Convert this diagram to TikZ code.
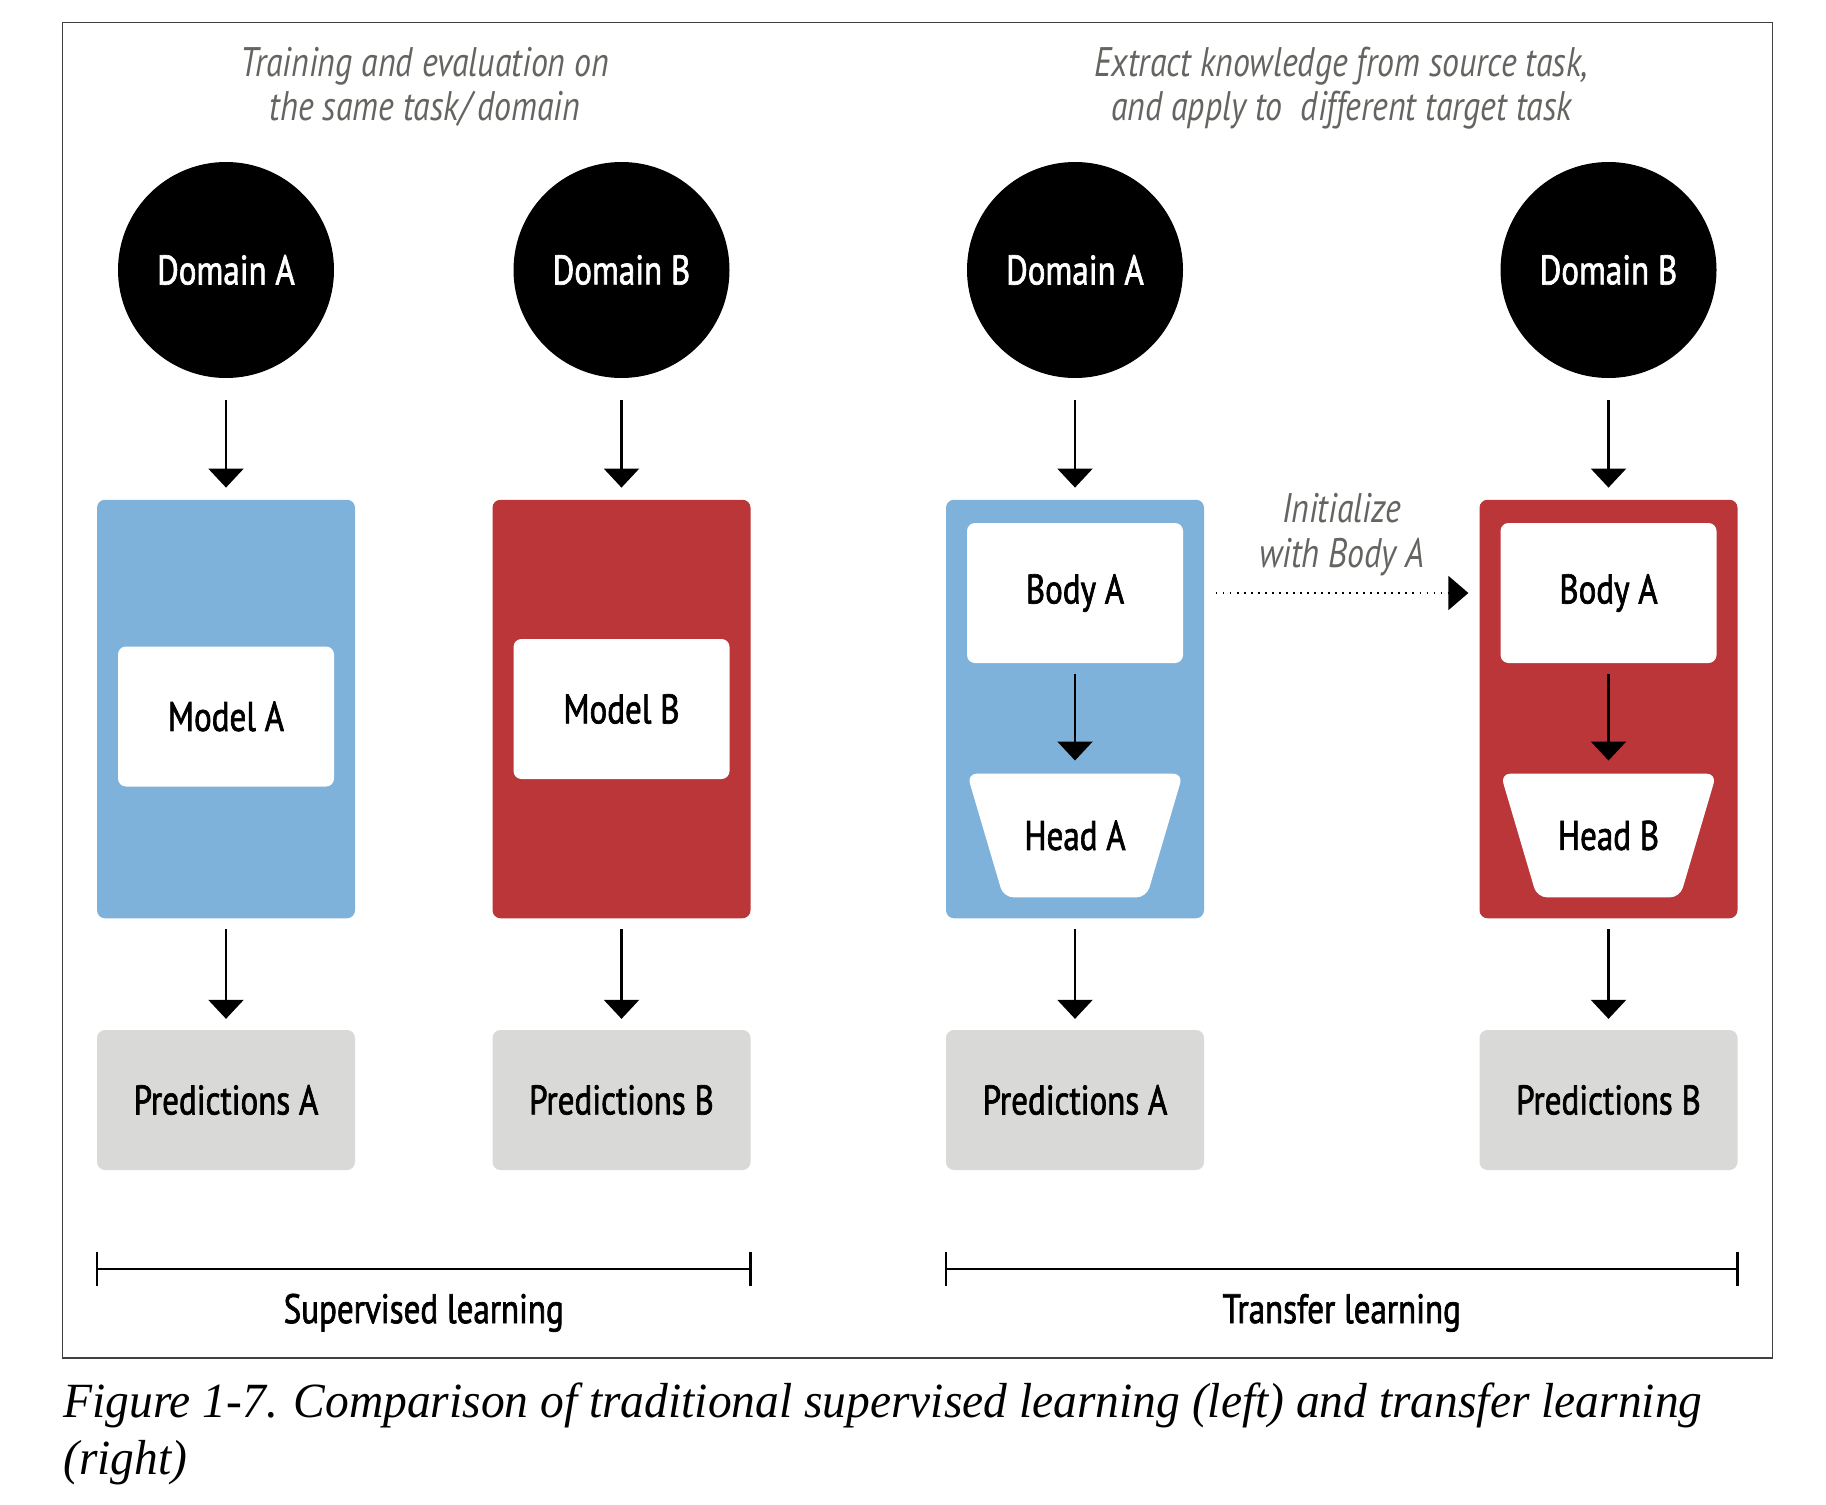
\documentclass[tikz,border=0pt]{standalone}
\usepackage{fontspec}
\usepackage{tikz}
\usetikzlibrary{arrows.meta,positioning,shapes.geometric}

\newfontfamily\lblfont[FakeStretch=0.8,FakeBold=1.6]{PT Sans}
\newfontfamily\notefont[FakeStretch=0.82]{PT Sans}
\newfontfamily\capfont[FakeStretch=0.965]{Liberation Serif}
\definecolor{blueA}{RGB}{127,178,218}
\definecolor{redB}{RGB}{186,54,56}
\definecolor{predgray}{RGB}{217,217,216}
\definecolor{notegray}{RGB}{100,100,96}

\begin{document}
\begin{tikzpicture}[>={Triangle[width=0.7cm,length=0.38cm]},line width=1.3pt,
	every node/.style={font=\lblfont\fontsize{23.5}{25.2}\selectfont}]
	\useasboundingbox (0,0) rectangle (36.52,-30.08);
	\draw[line width=0.9pt,black!75] (1.246,-0.45) rectangle (35.45,-27.154);
	\tikzset{domaincirc/.style={circle,fill=black,text=white,minimum size=4.32cm,inner sep=0pt}}
	\tikzset{bigblock/.style={rectangle,rounded corners=0.16cm,minimum width=5.16cm,minimum height=8.37cm}}
	\tikzset{innerbox/.style={rectangle,fill=white,rounded corners=0.16cm,minimum width=4.32cm,minimum height=2.8cm}}
	\tikzset{headlbl/.style={rectangle,minimum width=4.32cm,minimum height=2.474cm}}
	\tikzset{headfill/.style={fill=white,rounded corners=0.2cm}}
	\tikzset{predbox/.style={rectangle,fill=predgray,rounded corners=0.16cm,minimum width=5.16cm,minimum height=2.8cm}}
	\tikzset{notetext/.style={text=notegray,font=\notefont\itshape\fontsize{23.5}{25.2}\selectfont,align=center}}
	\tikzset{flow/.style={->,shorten <=0.2cm,shorten >=0.2cm}}
	\tikzset{initarrow/.style={-{Triangle[width=0.68cm,length=0.4cm]},line width=1pt,dash pattern=on 1pt off 3pt,
		shorten <=0.63cm,shorten >=0.62cm}}
	\tikzset{bracketline/.style={{Bar[width=0.68cm]}-{Bar[width=0.68cm]}}}
	
	% headings
	\node[notetext,anchor=base] (noteL) at (8.5,-2.42) {Training and evaluation on\\the same task/\,domain};
	\node[notetext,anchor=base] (noteR) at (26.83,-2.42) {Extract knowledge from source task,\\and apply to~ different target task};
	
	\node[domaincirc] (domA1) at (4.52,-5.4)  {Domain A};
	\node[domaincirc] (domB1) at (12.43,-5.4) {Domain B};
	\node[domaincirc] (domA2) at (21.5,-5.4)  {Domain A};
	\node[domaincirc] (domB2) at (32.17,-5.4) {Domain B};
	
	\node[bigblock,fill=blueA] (boxA1) at (4.52,-14.18)  {};
	\node[bigblock,fill=redB]  (boxB1) at (12.43,-14.18) {};
	\node[bigblock,fill=blueA] (boxA2) at (21.5,-14.18)  {};
	\node[bigblock,fill=redB]  (boxB2) at (32.17,-14.18) {};
	
	\node[innerbox] (modelA) at (4.52,-14.33)  {Model A};
	\node[innerbox] (modelB) at (12.43,-14.18) {Model B};
	\node[innerbox] (bodyA1) at (21.5,-11.86)  {Body A};
	\node[innerbox] (bodyA2) at (32.17,-11.86) {Body A};
	
	% heads: wide at the top, narrow at the bottom
	\coordinate (headAc) at (21.5,-16.71);
	\coordinate (headBc) at (32.17,-16.71);
	\fill[headfill] ([shift={(-2.16,1.237)}]headAc) -- ([shift={(2.16,1.237)}]headAc)
		-- ([shift={(1.43,-1.237)}]headAc) -- ([shift={(-1.43,-1.237)}]headAc) -- cycle;
	\fill[headfill] ([shift={(-2.16,1.237)}]headBc) -- ([shift={(2.16,1.237)}]headBc)
		-- ([shift={(1.43,-1.237)}]headBc) -- ([shift={(-1.43,-1.237)}]headBc) -- cycle;
	\node[headlbl] (headA) at (headAc) {Head A};
	\node[headlbl] (headB) at (headBc) {Head B};
	
	\node[predbox] (predA1) at (4.52,-22)  {Predictions A};
	\node[predbox] (predB1) at (12.43,-22) {Predictions B};
	\node[predbox] (predA2) at (21.5,-22)  {Predictions A};
	\node[predbox] (predB2) at (32.17,-22) {Predictions B};
	
	\path
	(domA1)  edge [flow,shorten <=0.41cm,shorten >=0.22cm] (boxA1)
	(domB1)  edge [flow,shorten <=0.41cm,shorten >=0.22cm] (boxB1)
	(domA2)  edge [flow,shorten <=0.41cm,shorten >=0.22cm] (boxA2)
	(domB2)  edge [flow,shorten <=0.41cm,shorten >=0.22cm] (boxB2)
	(boxA1)  edge [flow] (predA1)
	(boxB1)  edge [flow] (predB1)
	(boxA2)  edge [flow] (predA2)
	(boxB2)  edge [flow] (predB2)
	(bodyA1) edge [flow,shorten >=0.24cm] (headA)
	(bodyA2) edge [flow,shorten >=0.24cm] (headB)
	(bodyA1) edge [initarrow] node[notetext,midway,anchor=base,yshift=0.52cm] {Initialize\\with Body A} (bodyA2);
	
	% brackets under the two halves
	\draw[bracketline] ([yshift=-1.96cm]predA1.south west) -- ([yshift=-1.96cm]predB1.south east)
		node[midway,anchor=base,yshift=-1.08cm] {Supervised learning};
	\draw[bracketline] ([yshift=-1.96cm]predA2.south west) -- ([yshift=-1.96cm]predB2.south east)
		node[midway,anchor=base,yshift=-1.08cm] {Transfer learning};
	
	\node[anchor=base west,align=left,inner sep=0pt,font=\capfont\itshape\fontsize{28}{32}\selectfont] (caption) at (1.246,-29.48)
		{Figure 1-7. Comparison of traditional supervised learning (left) and transfer learning\\(right)};
\end{tikzpicture}
\end{document}
